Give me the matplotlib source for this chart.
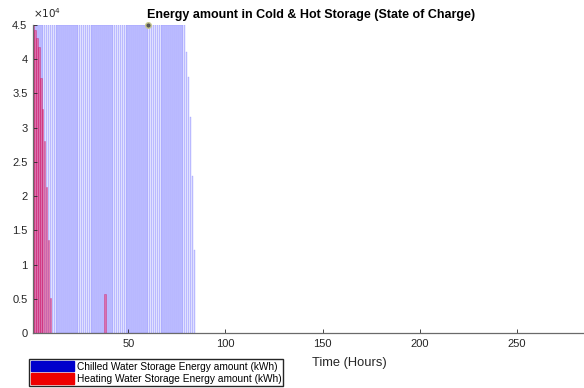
import matplotlib.pyplot as plt
from matplotlib.patches import Patch

plt.rcParams['font.family'] = ['Liberation Sans', 'DejaVu Sans']

# hourly state of charge, kWh
chilled_hours = list(range(1, 85))
chilled_kwh = [45000, 45000, 45000, 45000, 45000, 45000, 45000, 45000, 45000, 45000,
               45000, 45000, 45000, 45000, 45000, 45000, 45000, 45000, 45000, 45000,
               45000, 45000, 45000, 45000, 45000, 45000, 45000, 45000, 45000, 45000,
               45000, 45000, 45000, 45000, 45000, 45000, 45000, 45000, 45000, 45000,
               45000, 45000, 45000, 45000, 45000, 45000, 45000, 45000, 45000, 45000,
               45000, 45000, 45000, 45000, 45000, 45000, 45000, 45000, 45000, 45000,
               45000, 45000, 45000, 45000, 45000, 45000, 45000, 45000, 45000, 45000,
               45000, 45000, 45000, 45000, 45000, 45000, 45000, 45000, 45000,
               41000, 37400, 31500, 23000, 12100]

heating_hours = [1, 2, 3, 4, 5, 6, 7, 8, 9, 10, 38]
heating_kwh = [45000, 44200, 43100, 41800, 37300, 32700, 28100, 21400, 13600, 5100, 5700]

tip_hour = 60
tip_kwh = 45000

xtick_vals = [50, 100, 150, 200, 250]
ytick_vals = [0, 5000, 10000, 15000, 20000, 25000, 30000, 35000, 40000, 45000]
ytick_labels = ['0', '0.5', '1', '1.5', '2', '2.5', '3', '3.5', '4', '4.5']

fig = plt.figure(figsize=(5.84, 3.88), dpi=100)
ax = fig.add_axes([33/584, 1-333/388, (591-33)/584, (333-25)/388])

ax.bar(chilled_hours, chilled_kwh, width=0.8, color=(0.0, 0.0, 1.0, 0.18),
       edgecolor=(0.2, 0.2, 1.0, 0.3), linewidth=0.35)
ax.bar(heating_hours, heating_kwh, width=0.8, color=(1.0, 0.1, 0.3, 0.45),
       edgecolor=(0.8, 0.0, 0.35, 0.55), linewidth=0.4)
ax.plot([tip_hour], [tip_kwh], 'o', ms=4, mfc='#555555', mec='#c8c890', mew=1,
        clip_on=False, zorder=5)

ax.set_xlim(1, 288)
ax.set_ylim(0, 45000)
ax.set_xticks(xtick_vals)
ax.set_yticks(ytick_vals)
ax.set_yticklabels(ytick_labels)
ax.tick_params(direction='in', length=3, width=0.6, colors='#262626', labelsize=8,
               pad=4)
for s in ['top', 'right']:
    ax.spines[s].set_visible(False)
for s in ['left', 'bottom']:
    ax.spines[s].set_color('#6a6a6a')
    ax.spines[s].set_linewidth(0.9)

fig.text(33/584, 1-18/388, r'$\times10^4$', fontsize=7.5, color='#262626',
         ha='left', va='baseline')
fig.text(311/584, 1-15/388, 'Energy amount in Cold & Hot Storage (State of Charge)',
         fontsize=9, fontweight='bold', ha='center', va='center')
fig.text(349/584, 1-363/388, 'Time (Hours)', fontsize=9.3, color='#262626',
         ha='center', va='center')

handles = [Patch(facecolor='#0000cc', edgecolor='#0000cc'),
           Patch(facecolor='#ee0000', edgecolor='#ee0000')]
fig.legend(handles, ['Chilled Water Storage Energy amount (kWh)',
                     'Heating Water Storage Energy amount (kWh)'],
           loc='upper left', bbox_to_anchor=(29/584, 1-359/388), fontsize=7.3,
           frameon=True, fancybox=False, edgecolor='#262626', framealpha=1,
           handlelength=4.2, handleheight=1.2, handletextpad=0.3,
           borderpad=0.2, labelspacing=0.15, borderaxespad=0)

fig.savefig('out.png', dpi=100)
